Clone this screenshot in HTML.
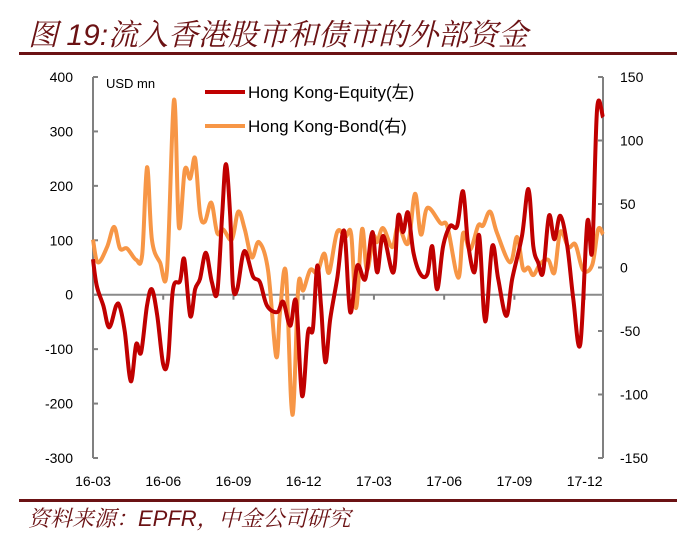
<!DOCTYPE html>
<html><head><meta charset="utf-8">
<style>
body{margin:0;background:#fff;width:691px;height:542px;overflow:hidden;font-family:"Liberation Sans","Noto Sans CJK SC",sans-serif;}
svg text{font-family:"Liberation Sans","Noto Sans CJK SC",sans-serif;}
</style></head>
<body>
<svg id="chart" width="691" height="542" xmlns="http://www.w3.org/2000/svg">
<text x="28" y="45" font-size="30" font-style="italic" fill="#6b1214" style="font-family:'Liberation Sans','Noto Serif CJK SC',serif">图 19:流入香港股市和债市的外部资金</text>
<rect x="19" y="52" width="658" height="3" fill="#6b1214"/>
<rect x="19" y="499" width="658" height="3" fill="#6b1214"/>
<text x="28" y="526" font-size="22" font-style="italic" fill="#6b1214" style="font-family:'Liberation Sans','Noto Serif CJK SC',serif">资料来源：EPFR，中金公司研究</text>
<g id="axes"></g>
<g id="series"></g>
<text x="106" y="88" font-size="13" fill="#000">USD mn</text>
<g>
<g><line x1="205" y1="92" x2="245" y2="92" stroke="#c00000" stroke-width="4"/><text x="248" y="98" font-size="17" fill="#000">Hong Kong-Equity(左)</text></g>
<g><line x1="205" y1="126" x2="245" y2="126" stroke="#f79646" stroke-width="4"/><text x="248" y="132" font-size="17" fill="#000">Hong Kong-Bond(右)</text></g>
</g>
</svg>
<script>
const xTickWeeks=[0,13,26,39,52,65,78,91];
const xTickLabels=["16-03","16-06","16-09","16-12","17-03","17-06","17-09","17-12"];
const leftTicks=[400,300,200,100,0,-100,-200,-300];
const rightTicks=[150,100,50,0,-50,-100,-150];
const equityWeeks=[0,0.7,1.9,3.0,4.3,5.0,5.9,7.0,8.0,8.9,10.0,10.9,11.9,13.0,13.9,14.8,16.1,16.9,18.0,18.9,19.8,20.9,22.0,23.0,23.9,24.6,25.4,25.9,26.7,28.0,29.6,30.9,32.2,34.1,35.2,36.5,37.6,38.7,39.8,40.7,41.5,42.2,43.0,43.9,45.2,46.5,47.6,48.9,50.4,51.7,52.6,53.7,55.6,56.5,57.4,58.3,59.3,60.6,61.9,62.8,63.7,64.8,66.1,67.4,68.5,69.4,70.6,71.5,72.6,73.9,75.0,76.5,77.6,79.4,80.6,81.5,82.4,83.3,84.4,85.4,86.5,87.8,88.9,90.2,91.5,92.4,93.3,94.4];
const equityValues=[65,16,-20,-60,-20,-23,-69,-159,-91,-106,-20,10,-39,-128,-118,10,25,65,-39,10,29,77,23,5,145,240,145,17,10,80,34,23,-20,-32,-13,-57,-13,-186,-69,-63,53,-20,-124,-45,30,117,-32,53,29,115,41,108,41,145,115,151,78,38,38,89,10,89,126,126,190,96,41,108,-49,89,29,-39,29,108,194,89,59,41,145,102,145,89,-8,-91,133,80,341,326];
const bondWeeks=[0,0.9,2.6,3.9,5.0,6.3,8.0,9.1,10.0,10.9,12.4,13.7,15.0,15.9,17.0,18.0,18.9,19.8,20.7,21.9,23.0,24.1,25.7,26.9,28.1,29.4,30.7,32.4,33.9,34.6,35.7,36.9,38.0,38.9,40.2,41.5,42.8,43.7,45.2,46.7,47.8,48.7,49.8,50.7,51.9,52.6,53.7,55.4,56.5,58.3,59.6,60.7,61.9,64.3,65.6,67.6,68.5,69.8,71.3,72.2,73.5,74.8,77.2,78.5,79.6,80.6,81.5,82.8,84.3,85.4,86.5,88.0,89.3,90.7,92.4,93.5,94.4];
const bondValues=[22,4,16,32,15,15,6,10,79,22,4,-2,132,32,77,70,86,43,36,51,27,30,22,44,30,8,20,-2,-70,-36,-4,-116,-15,-18,-2,-4,11,-4,28,24,26,-32,30,-2,24,20,31,16,33,19,58,26,47,35,32,-8,27,14,33,33,44,27,4,24,-1,0,-6,3,6,-4,28,16,18,-2,2,30,26];

const X0=93,X1=603,Y0=77,Y1=458;
const xMax=94.4;
const xs=w=>X0+(w/xMax)*(X1-X0);
const yL=v=>Y0+(400-v)/700*(Y1-Y0);
const yR=v=>Y0+(150-v)/300*(Y1-Y0);
const NS="http://www.w3.org/2000/svg";
const axes=document.getElementById('axes');
function mk(tag,attrs,parent){const e=document.createElementNS(NS,tag);for(const k in attrs)e.setAttribute(k,attrs[k]);parent.appendChild(e);return e;}
let e;
e=mk('line',{x1:X0,y1:Y0,x2:X0,y2:Y1,stroke:'#808080','stroke-width':2},axes);


e=mk('line',{x1:X1,y1:Y0,x2:X1,y2:Y1,stroke:'#808080','stroke-width':2},axes);


e=mk('line',{x1:X0,y1:yL(0),x2:X1,y2:yL(0),stroke:'#8a8a8a','stroke-width':2},axes);


leftTicks.forEach(v=>{
  mk('line',{x1:X0,y1:yL(v),x2:X0+5,y2:yL(v),stroke:'#808080','stroke-width':2},axes);
  e=mk('text',{x:73,y:yL(v)+5,'font-size':14,'text-anchor':'end',fill:'#000'},axes);
  e.textContent=v;
  
  
});
rightTicks.forEach(v=>{
  mk('line',{x1:X1-5,y1:yR(v),x2:X1,y2:yR(v),stroke:'#808080','stroke-width':2},axes);
  e=mk('text',{x:620,y:yR(v)+5,'font-size':14,fill:'#000'},axes);
  e.textContent=v;
  
  
});
xTickWeeks.forEach((w,i)=>{
  mk('line',{x1:xs(w),y1:yL(0),x2:xs(w),y2:yL(0)+5,stroke:'#808080','stroke-width':2},axes);
  e=mk('text',{x:xs(w),y:486,'font-size':14,'text-anchor':'middle',fill:'#000'},axes);
  e.textContent=xTickLabels[i];
  
  
});
const series=document.getElementById('series');
function pathD(ws,vs,yf){
  const p=ws.map((w,i)=>[xs(w),yf(vs[i])]);
  let d='M'+p[0][0].toFixed(1)+','+p[0][1].toFixed(1);
  const t=0.17;
  for(let i=0;i<p.length-1;i++){
    const a=p[i-1]||p[i],b=p[i],c=p[i+1],n=p[i+2]||c;
    const c1=[b[0]+(c[0]-a[0])*t,b[1]+(c[1]-a[1])*t];
    const c2=[c[0]-(n[0]-b[0])*t,c[1]-(n[1]-b[1])*t];
    d+='C'+c1.map(v=>v.toFixed(1)).join(',')+' '+c2.map(v=>v.toFixed(1)).join(',')+' '+c[0].toFixed(1)+','+c[1].toFixed(1);
  }
  return d;
}
e=mk('path',{d:pathD(bondWeeks,bondValues,yR),fill:'none',stroke:'#f79646','stroke-width':4,'stroke-linejoin':'round'},series);


e=mk('path',{d:pathD(equityWeeks,equityValues,yL),fill:'none',stroke:'#c00000','stroke-width':4,'stroke-linejoin':'round'},series);


</script>
</body></html>
